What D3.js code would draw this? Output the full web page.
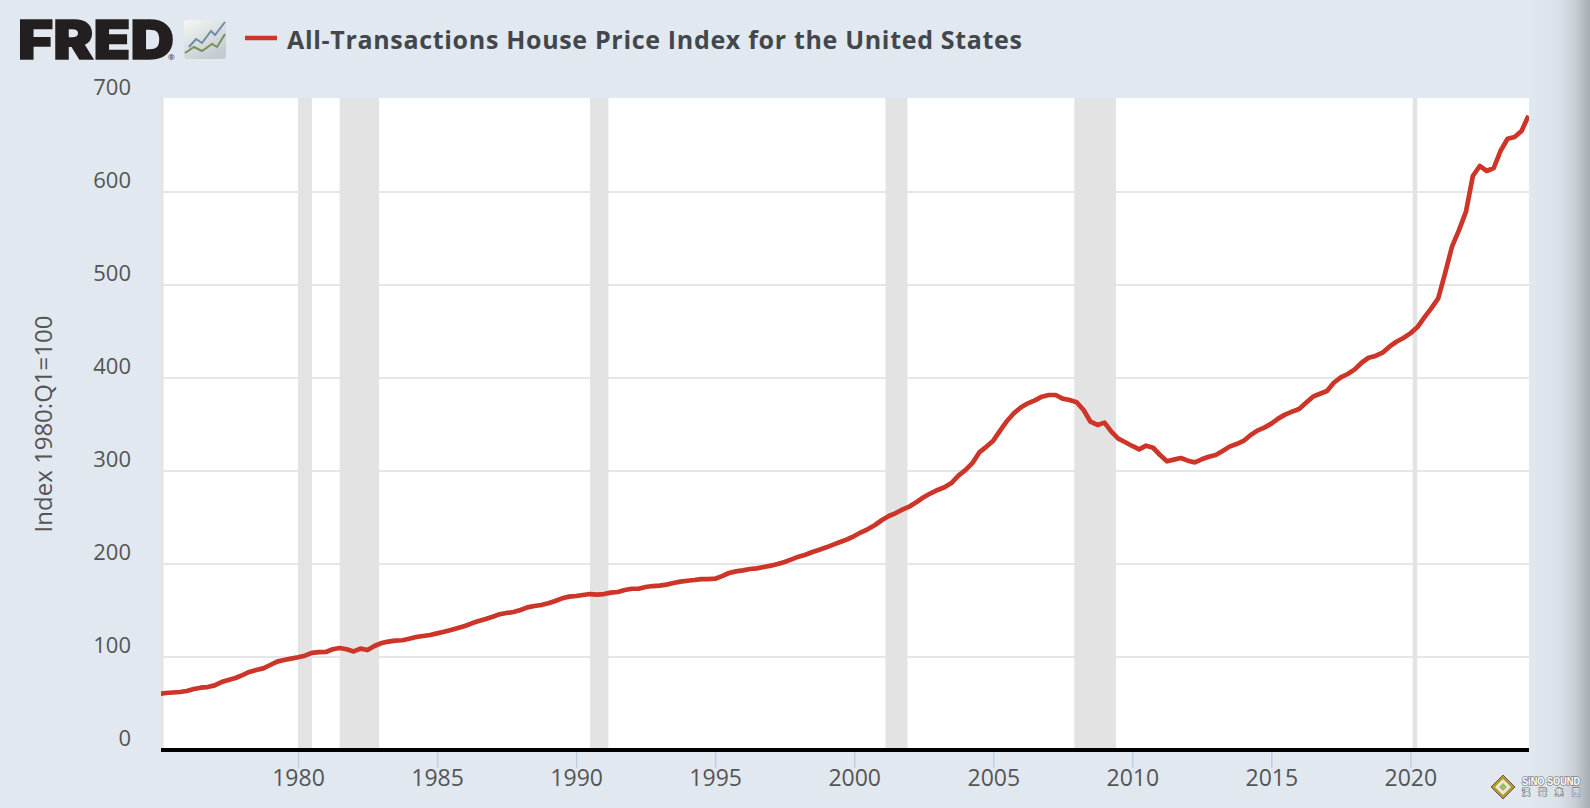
<!DOCTYPE html>
<html>
<head>
<meta charset="utf-8">
<title>All-Transactions House Price Index for the United States</title>
<script src="https://cdn.jsdelivr.net/npm/d3@7"></script>
<style>
  html, body { margin: 0; padding: 0; background: #e1e8ef; overflow: hidden; }
  svg { display: block; }
  text { font-family: "Open Sans", sans-serif; }
</style>
</head>
<body>
<svg id="chart" width="1590" height="808"></svg>
<script>
const seriesName = "All-Transactions House Price Index for the United States";
const yAxisLabel = "Index 1980:Q1=100";

// quarterly, 1975 Q1 to 2024 Q2
const hpi = [
  60.5, 61.3, 61.8, 62.4,
  63.4, 65.6, 67.0, 67.7,
  69.5, 73.0, 75.3, 77.4,
  80.6, 83.9, 86.0, 87.8,
  91.4, 95.0, 96.8, 98.2,
  99.7, 101.4, 104.5, 105.3,
  105.4, 108.3, 109.7, 108.3,
  106.0, 109.0, 107.5, 111.8,
  115.0, 116.5, 117.6, 118.0,
  119.7, 121.5, 122.6, 123.7,
  125.4, 127.2, 129.0, 131.2,
  133.3, 136.2, 138.7, 140.9,
  143.3, 145.9, 147.3, 148.4,
  150.5, 153.4, 154.8, 155.9,
  157.7, 160.2, 163.1, 164.9,
  165.6, 166.7, 167.7, 167.0,
  167.7, 169.2, 169.9, 172.0,
  173.4, 173.4, 175.3, 176.3,
  176.7, 177.8, 179.6, 181.0,
  182.0, 182.8, 183.8, 183.8,
  184.2, 187.0, 190.3, 192.1,
  193.2, 194.6, 195.3, 196.8,
  198.2, 200.0, 202.2, 205.0,
  207.9, 210.0, 212.9, 215.4,
  217.9, 220.8, 223.7, 226.5,
  230.1, 234.1, 237.6, 241.9,
  247.3, 251.6, 254.8, 258.8,
  262.0, 266.7, 271.7, 276.0,
  279.6, 282.5, 287.0, 295.0,
  301.0, 308.4, 320.0, 326.0,
  332.6, 343.4, 353.8, 362.3,
  368.5, 372.8, 376.0, 379.9,
  381.7, 381.7, 377.8, 376.3,
  373.9, 365.6, 353.0, 349.5,
  352.0, 342.3, 334.8, 330.9,
  326.9, 323.3, 327.2, 325.0,
  317.2, 310.4, 312.2, 314.0,
  311.1, 309.3, 312.6, 315.4,
  317.2, 321.5, 326.2, 329.0,
  332.3, 338.4, 343.4, 346.6,
  350.9, 356.3, 360.6, 363.8,
  366.7, 373.4, 379.9, 383.1,
  386.0, 394.9, 400.7, 404.3,
  409.3, 416.4, 421.8, 423.7,
  427.2, 433.7, 439.0, 443.0,
  448.0, 454.5, 464.9, 474.9,
  485.6, 512.5, 541.2, 559.0,
  578.9, 617.2, 628.0, 622.6,
  625.8, 644.4, 657.3, 659.1,
  665.6, 682.0
];
const quarters = d3.utcMonths(new Date(Date.UTC(1975, 0, 1)), new Date(Date.UTC(2024, 6, 1)), 3);

const recessionStart = ["1973-11-01", "1980-01-01", "1981-07-01", "1990-07-01", "2001-02-15", "2007-12-01", "2020-02-01"];
const recessionEnd   = ["1975-03-01", "1980-07-01", "1982-12-01", "1991-03-01", "2001-12-01", "2009-06-01", "2020-04-01"];

const yTicks = [0, 100, 200, 300, 400, 500, 600, 700];
const gridTicks = [100, 200, 300, 400, 500, 600];
const xTickYears = [1980, 1985, 1990, 1995, 2000, 2005, 2010, 2015, 2020];

const svg = d3.select("#chart");
const defs = svg.append("defs");

const plotLeft = 161, plotRight = 1529, plotTop = 98, plotBottom = 750;

const x = d3.scaleUtc()
  .domain([new Date(Date.UTC(1975, 0, 1)), new Date(Date.UTC(2024, 3, 1))])
  .range([159, 1528.5]);
const y = d3.scaleLinear().domain([0, 700]).range([750, 99]);

// darker edge on the right of the screenshot
let edge = defs.append("linearGradient").attr("id", "edge");
edge.append("stop").attr("offset", "0%").attr("stop-color", "#e1e8ef");
edge.append("stop").attr("offset", "50%").attr("stop-color", "#d9e0e7");
edge.append("stop").attr("offset", "75%").attr("stop-color", "#c8ced5");
edge.append("stop").attr("offset", "100%").attr("stop-color", "#a5acb2");
svg.append("rect").attr("x", 1530).attr("y", 0).attr("width", 60).attr("height", 808)
  .attr("fill", "url(#edge)");

defs.append("clipPath").attr("id", "plot-clip").append("rect")
  .attr("x", plotLeft).attr("y", plotTop)
  .attr("width", plotRight - plotLeft).attr("height", plotBottom - plotTop);

svg.append("rect")
  .attr("x", plotLeft).attr("y", plotTop)
  .attr("width", plotRight - plotLeft).attr("height", plotBottom - plotTop)
  .attr("fill", "#fff");

const plot = svg.append("g").attr("clip-path", "url(#plot-clip)");

plot.selectAll(".grid").data(gridTicks).join("line")
  .attr("class", "grid")
  .attr("x1", plotLeft).attr("x2", plotRight)
  .attr("y1", d => y(d)).attr("y2", d => y(d))
  .attr("stroke", "#e6e6e6").attr("stroke-width", 2);

plot.selectAll(".recession").data(recessionStart).join("rect")
  .attr("class", "recession")
  .attr("x", d => x(new Date(d)))
  .attr("width", (d, i) => x(new Date(recessionEnd[i])) - x(new Date(d)))
  .attr("y", plotTop).attr("height", plotBottom - plotTop)
  .attr("fill", "#e3e3e3");

const line = d3.line()
  .x((d, i) => x(quarters[i]))
  .y(d => y(d));

plot.append("path")
  .datum(hpi)
  .attr("d", line)
  .attr("fill", "none")
  .attr("stroke", "#cc3527")
  .attr("stroke-width", 4.7)
  .attr("stroke-linejoin", "round");

// y axis, labels sit above their grid lines
const yAxis = svg.append("g")
  .attr("transform", "translate(131,0)")
  .call(d3.axisLeft(y).tickValues(yTicks).tickSize(0).tickPadding(0));
yAxis.select(".domain").remove();
yAxis.selectAll("text")
  .attr("dy", -5)
  .attr("fill", "#555")
  .style("font-family", '"Open Sans", sans-serif')
  .style("font-size", "22px");

svg.append("text")
  .attr("transform", "translate(46,424) rotate(-90)")
  .attr("text-anchor", "middle")
  .attr("dominant-baseline", "middle")
  .attr("fill", "#555")
  .style("font-size", "24px")
  .text(yAxisLabel);

// x axis
const xAxis = svg.append("g")
  .attr("transform", "translate(0,752)")
  .call(d3.axisBottom(x)
    .tickValues(xTickYears.map(d => new Date(Date.UTC(d, 0, 1))))
    .tickFormat(d3.utcFormat("%Y"))
    .tickSize(16).tickPadding(2));
xAxis.select(".domain").remove();
xAxis.selectAll("line").attr("stroke", "#c0cfe0").attr("stroke-width", 1.5);
xAxis.selectAll("text")
  .attr("fill", "#555")
  .style("font-family", '"Open Sans", sans-serif')
  .style("font-size", "23px");

svg.append("line")
  .attr("x1", plotLeft).attr("x2", plotRight)
  .attr("y1", plotBottom).attr("y2", plotBottom)
  .attr("stroke", "#000").attr("stroke-width", 4);

// legend
svg.append("line")
  .attr("x1", 245).attr("x2", 277).attr("y1", 38).attr("y2", 38)
  .attr("stroke", "#cc3527").attr("stroke-width", 4.5);

svg.append("text")
  .attr("x", 287).attr("y", 48.5)
  .attr("textLength", 735).attr("lengthAdjust", "spacing")
  .attr("fill", "#43474b")
  .style("font-size", "25px").style("font-weight", 700)
  .text(seriesName);

// FRED logo
svg.append("text")
  .attr("x", 18).attr("y", 59)
  .attr("textLength", 156).attr("lengthAdjust", "spacingAndGlyphs")
  .attr("fill", "#231f20").attr("stroke", "#231f20").attr("stroke-width", 1.5)
  .style("font-family", "Inter, sans-serif")
  .style("font-size", "54px").style("font-weight", 900)
  .text("FRED");
svg.append("text")
  .attr("x", 168).attr("y", 60)
  .attr("fill", "#231f20")
  .style("font-size", "8px")
  .text("®");

let iconFill = defs.append("linearGradient").attr("id", "icon-fill")
  .attr("x1", 0).attr("x2", 0.6).attr("y1", 0).attr("y2", 1);
iconFill.append("stop").attr("offset", "0%").attr("stop-color", "#f6f7f5");
iconFill.append("stop").attr("offset", "100%").attr("stop-color", "#c4cbd1");

const icon = svg.append("g").attr("transform", "translate(184,20)");
icon.append("rect").attr("width", 42).attr("height", 39).attr("rx", 3)
  .attr("fill", "url(#icon-fill)");
icon.append("path").attr("d", "M5 27 L12 19 L18 23 L27 11 L31 15 L41 2")
  .attr("fill", "none").attr("stroke", "#6f8ca3").attr("stroke-width", 2);
icon.append("path").attr("d", "M1 33 L10 27 L18 31 L28 24 L33 27 L41 14")
  .attr("fill", "none").attr("stroke", "#76925a").attr("stroke-width", 2);

// watermark, bottom right
const mark = svg.append("g").attr("transform", "translate(1503,787)");
mark.append("path").attr("d", "M0 -12 L12 0 L0 12 L-12 0 Z").attr("fill", "#b8962e").attr("stroke", "#444").attr("stroke-width", 0.8);
mark.append("path").attr("d", "M0 -8 L8 0 L0 8 L-8 0 Z").attr("fill", "#e6ead8");
mark.append("path").attr("d", "M0 -4 L4 0 L0 4 L-4 0 Z").attr("fill", "#9fb86a");

svg.append("text")
  .attr("x", 1522).attr("y", 785)
  .attr("textLength", 58).attr("lengthAdjust", "spacingAndGlyphs")
  .attr("fill", "#fff").attr("stroke", "#7d848b").attr("stroke-width", 1.6)
  .attr("paint-order", "stroke")
  .style("font-family", '"Liberation Sans", sans-serif')
  .style("font-size", "10px").style("font-weight", 700)
  .text("SiNO SOUND");
svg.append("text")
  .attr("x", 1522).attr("y", 795)
  .attr("textLength", 58).attr("lengthAdjust", "spacing")
  .attr("fill", "#fff").attr("stroke", "#7d848b").attr("stroke-width", 1.4)
  .attr("paint-order", "stroke")
  .style("font-family", '"Noto Sans CJK TC", sans-serif')
  .style("font-size", "8px")
  .text("漢聲集團");
</script>
</body>
</html>
